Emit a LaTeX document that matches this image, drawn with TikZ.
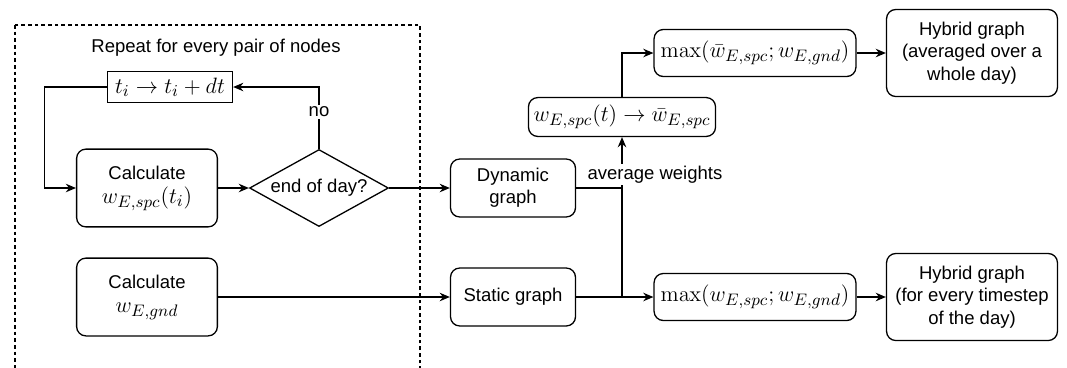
\documentclass[tikz,border=0pt]{standalone}
\usepackage[no-math]{fontspec}
\setmainfont{Liberation Sans}
\usepackage{amsmath,amssymb}
\usetikzlibrary{shapes.geometric,arrows.meta}
\newcommand{\mth}[1]{{\fontsize{12.5}{15}\selectfont$#1$}}

\begin{document}
\begin{tikzpicture}[x=0.54pt,y=-0.54pt,line width=0.7pt,
    box/.style={draw,rounded corners=5pt,align=center,inner sep=1pt},
    calcbox/.style={box,minimum width=76pt,minimum height=42pt},
    graphbox/.style={box,minimum width=67.5pt,minimum height=31.3pt},
    maxbox/.style={box,minimum width=109pt,minimum height=25.4pt},
    hybbox/.style={box,minimum width=92.3pt,minimum height=47pt},
    decision/.style={draw,diamond,inner sep=0pt,minimum width=75pt,minimum height=41.6pt},
    arr/.style={-{Stealth[length=5.5pt,width=4.6pt]}}]
    \useasboundingbox (0,0) rectangle (1067,367);

            \draw[dash pattern=on 2pt off 1.6pt] (15,25) rectangle (420,385);
            \node (title) at (216,48) {Repeat for every pair of nodes};

            \node[draw,inner sep=1pt,minimum width=67.5pt,minimum height=16.7pt] (tstep) at (170,87) {\mth{t_i \rightarrow t_i + dt}};
            \node[calcbox] (calcspc) at (147,188) {Calculate\\[1pt] \mth{w_{E,spc}(t_i)}};
            \node[decision] (eod) at (319,188) {\makebox[0pt][c]{end of day?}};
            \node[calcbox] (calcgnd) at (147,297) {Calculate\\[1pt] \mth{w_{E,gnd}}};

            \node[graphbox] (dyn) at (513,188) {Dynamic\\graph};
            \node[graphbox] (stat) at (513,297) {Static graph};
            \coordinate (split) at (622,188);

            \node[box,minimum width=101pt,minimum height=21pt] (avg) at (622,117) {\mth{w_{E,spc}(t) \rightarrow \bar{w}_{E,spc}}};
            \node[maxbox] (maxt) at (755,53) {\mth{\max(\bar{w}_{E,spc}; w_{E,gnd})}};
            \node[maxbox] (maxb) at (755,297) {\mth{\max(w_{E,spc}; w_{E,gnd})}};
            \node[hybbox] (hybt) at (972,53) {Hybrid graph\\(averaged over a\\whole day)};
            \node[hybbox] (hybb) at (972,297) {Hybrid graph\\(for every timestep\\of the day)};

            % loop over the time steps
            \draw[arr] (tstep.west) -- ++(-62,0) |- (calcspc.west);
            \draw[arr] (eod.north) |- node[pos=0.3,fill=white,inner sep=1pt]{no} (tstep.east);
            \draw[arr] (calcspc) -- (eod);
            \draw[arr] (eod) -- (dyn);
            \draw[arr] (calcgnd) -- (stat);

            % combine the graphs
            \draw (dyn.east) -- (split);
            \draw (split) -- (split |- stat.east);
            \draw[arr] (stat) -- (maxb);
            \draw[arr] (split) -- node[pos=0.27,fill=white,inner sep=1pt,xshift=17.8pt]{average weights} (avg.south);
            \draw[arr] (avg.north) |- (maxt.west);
            \draw[arr] (maxt) -- (hybt);
            \draw[arr] (maxb) -- (hybb);
        \end{tikzpicture}
\end{document}
